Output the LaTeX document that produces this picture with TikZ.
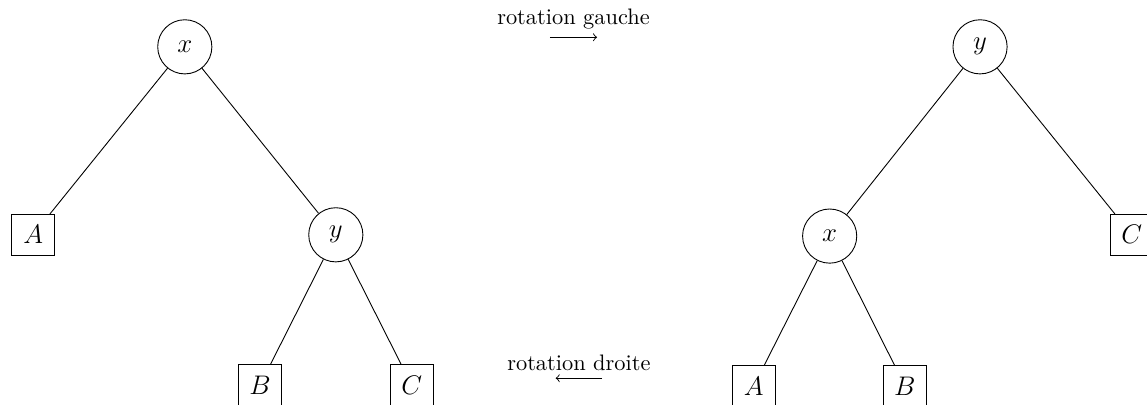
\documentclass[tikz,border=0pt]{standalone}
\usepackage{amsmath}
\usepackage{tikz}

\begin{document}
\begin{tikzpicture}[
	noeud/.style={draw, circle, minimum size=0.85cm, inner sep=0pt, font=\large},
	feuille/.style={draw, rectangle, minimum width=0.68cm, minimum height=0.64cm, inner sep=0pt, font=\large}]
	\useasboundingbox (0,0) rectangle (18.0,6.355);
	
	% arbre de gauche
	\node[noeud] (xL) at (2.90,5.62) {$x$};
	\node[feuille] (AL) at (0.52,2.67) {$A$};
	\node[noeud] (yL) at (5.27,2.67) {$y$};
	\node[feuille] (BL) at (4.08,0.31) {$B$};
	\node[feuille] (CL) at (6.46,0.31) {$C$};
	
	\draw (xL) -- (AL);
	\draw (xL) -- (yL);
	\draw (yL) -- (BL);
	\draw (yL) -- (CL);
	
	% arbre de droite
	\node[noeud] (yR) at (15.38,5.62) {$y$};
	\node[noeud] (xR) at (13.02,2.65) {$x$};
	\node[feuille] (CR) at (17.76,2.67) {$C$};
	\node[feuille] (AR) at (11.83,0.30) {$A$};
	\node[feuille] (BR) at (14.20,0.30) {$B$};
	
	\draw (yR) -- (xR);
	\draw (yR) -- (CR);
	\draw (xR) -- (AR);
	\draw (xR) -- (BR);
	
	% rotations
	\coordinate (gD) at (8.63,5.77);
	\coordinate (gF) at (9.37,5.77);
	\coordinate (dD) at (9.45,0.42);
	\coordinate (dF) at (8.72,0.42);
	
	\draw[->] (gD) -- node[above] {rotation gauche} (gF);
	\draw[->] (dD) -- node[above] {rotation droite} (dF);
\end{tikzpicture}
\end{document}
